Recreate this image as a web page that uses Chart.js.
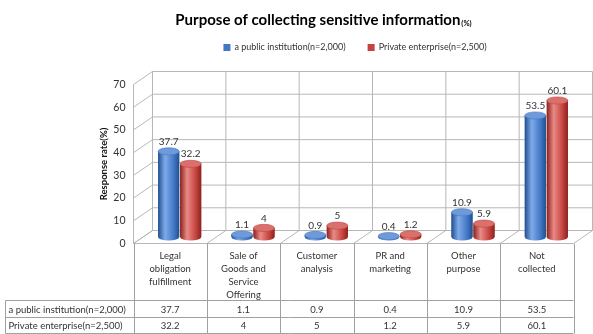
<!DOCTYPE html>
<html>
<head>
<meta charset="utf-8">
<script src="https://cdn.jsdelivr.net/npm/chart.js@4/dist/chart.umd.min.js"></script>
<style>
  html, body { margin: 0; padding: 0; background: #fff; }
  canvas { display: block; }
</style>
</head>
<body>
<canvas id="myChart" width="593" height="334"></canvas>
<script>
const categories = [
  ['Legal', 'obligation', 'fulfillment'],
  ['Sale of', 'Goods and', 'Service', 'Offering'],
  ['Customer', 'analysis'],
  ['PR and', 'marketing'],
  ['Other', 'purpose'],
  ['Not', 'collected']
]
const publicValues = [37.7, 1.1, 0.9, 0.4, 10.9, 53.5]
const privateValues = [32.2, 4, 5, 1.2, 5.9, 60.1]
const seriesNames = ['a public institution(n=2,000)', 'Private enterprise(n=2,500)']
const yTicks = [0, 10, 20, 30, 40, 50, 60, 70]

const titleText = 'Purpose of collecting sensitive information'
const titleUnit = '(%)'
const yTitle = 'Response rate(%)'

const blueShades = ['#21508f', '#7eaae8', '#4277c6', '#6f9ad9']
const redShades = ['#8a221f', '#ea8a86', '#c4433f', '#d9706c']
const gridColor = '#b7b7b7'
const tableColor = '#a0a0a0'
const textColor = '#333333'
const fontFamily = 'Lato, "Open Sans", sans-serif'

// depth of the 3d box, from the front edge to the back wall
const depthX = 19
const depthY = -13

function drawCylinder(c, x, top, base, w, shades) {
	var rx = w / 2, ry = w * 0.17
	var g = c.createLinearGradient(x - rx, 0, x + rx, 0)
	g.addColorStop(0, shades[0])
	g.addColorStop(0.33, shades[1])
	g.addColorStop(0.75, shades[2])
	g.addColorStop(1, shades[0])
	c.fillStyle = g
	c.beginPath()
	c.moveTo(x - rx, top)
	c.lineTo(x - rx, base)
	c.ellipse(x, base, rx, ry, 0, Math.PI, 0, true)
	c.lineTo(x + rx, top)
	c.closePath()
	c.fill()
	c.beginPath()
	c.ellipse(x, top, rx, ry, 0, 0, Math.PI * 2)
	c.fillStyle = shades[3]
	c.fill()
	c.strokeStyle = shades[2]
	c.lineWidth = 0.6
	c.stroke()
	return ry
}

// walls, floor and the y axis labels
const boxPlugin = {
	id: 'box3d',
	beforeDatasetsDraw(chart) {
		var c = chart.ctx, area = chart.chartArea, ys = chart.scales.y
		var hx = depthX / 2, hy = depthY / 2
		var step = (area.right - area.left) / categories.length
		c.save()
		c.strokeStyle = gridColor
		c.lineWidth = 1
		c.beginPath()
		yTicks.forEach(function (v) {
			var py = ys.getPixelForValue(v)
			c.moveTo(area.left + hx, py + hy)
			c.lineTo(area.right + hx, py + hy)
			c.moveTo(area.left - hx, py - hy)
			c.lineTo(area.left + hx, py + hy)
		})
		var top = ys.getPixelForValue(yTicks[yTicks.length - 1])
		var bottom = ys.getPixelForValue(0)
		for (var i = 0; i <= categories.length; i++) {
			var bx = area.left + i * step
			c.moveTo(bx + hx, top + hy)
			c.lineTo(bx + hx, bottom + hy)
			c.moveTo(bx - hx, bottom - hy)
			c.lineTo(bx + hx, bottom + hy)
		}
		c.moveTo(area.left - hx, top - hy)
		c.lineTo(area.left - hx, bottom - hy)
		c.moveTo(area.left - hx, bottom - hy)
		c.lineTo(area.right - hx, bottom - hy)
		c.stroke()

		// tick labels on the front edge
		c.fillStyle = textColor
		c.font = '10.5px ' + fontFamily
		c.textAlign = 'right'
		c.textBaseline = 'middle'
		yTicks.forEach(function (v) {
			c.fillText(String(v), area.left - hx - 8, ys.getPixelForValue(v) - hy)
		})

		c.save()
		c.translate(area.left - hx - 30, (top + bottom) / 2 - hy)
		c.rotate(-Math.PI / 2)
		c.textAlign = 'center'
		c.font = 'bold 9.5px ' + fontFamily
		c.fillStyle = '#111'
		c.fillText(yTitle, 0, 0)
		c.restore()
		c.restore()
	},
	afterDatasetsDraw(chart) {
		var c = chart.ctx
		c.save()
		chart.data.datasets.forEach(function (ds, di) {
			var meta = chart.getDatasetMeta(di)
			meta.data.forEach(function (bar, i) {
				var ry = drawCylinder(c, bar.x, bar.y, bar.base, bar.width, ds.shades)
				c.fillStyle = textColor
				c.font = '10px ' + fontFamily
				c.textAlign = 'center'
				c.textBaseline = 'bottom'
				c.fillText(String(ds.data[i]), bar.x, bar.y - ry - 1)
			})
		})
		c.restore()
	}
}

// title, legend and the data table under the plot
const textPlugin = {
	id: 'dataTable',
	afterDraw(chart) {
		var c = chart.ctx, area = chart.chartArea
		c.save()

		// title with the small unit
		c.fillStyle = '#000'
		c.textBaseline = 'middle'
		c.textAlign = 'left'
		c.font = 'bold 15px ' + fontFamily
		var w1 = c.measureText(titleText).width
		c.font = 'bold 7.5px ' + fontFamily
		var w2 = c.measureText(titleUnit).width
		var tx = 323 - (w1 + w2) / 2
		c.font = 'bold 15px ' + fontFamily
		c.fillText(titleText, tx, 20)
		c.font = 'bold 7.5px ' + fontFamily
		c.fillText(titleUnit, tx + w1 + 1, 24)

		// legend
		c.font = '9px ' + fontFamily
		c.fillStyle = textColor
		var lw = seriesNames.map(function (s) { return c.measureText(s).width })
		var gap = 22
		var total = lw[0] + lw[1] + 2 * 11 + gap
		var lx = 355 - total / 2
		chart.data.datasets.forEach(function (ds, di) {
			c.fillStyle = ds.backgroundColor
			c.fillRect(lx, 44, 7, 7)
			c.fillStyle = textColor
			c.fillText(seriesNames[di], lx + 11, 47.5)
			lx += 11 + lw[di] + gap
		})

		// data table
		var left = area.left - depthX / 2
		var right = area.right - depthX / 2
		var top = area.bottom - depthY / 2
		var step = (right - left) / categories.length
		var row1 = top + 57, row2 = row1 + 17, bottom = row2 + 16
		var tableLeft = 5.5
		c.strokeStyle = tableColor
		c.lineWidth = 1
		c.beginPath()
		for (var i = 0; i <= categories.length; i++) {
			var bx = Math.round(left + i * step) + 0.5
			c.moveTo(bx, top)
			c.lineTo(bx, bottom)
		}
		;[row1, row2, bottom].forEach(function (ry) {
			c.moveTo(tableLeft, ry)
			c.lineTo(right, ry)
		})
		c.moveTo(tableLeft, row1)
		c.lineTo(tableLeft, bottom)
		c.stroke()

		c.fillStyle = textColor
		c.font = '9.5px ' + fontFamily
		c.textAlign = 'center'
		categories.forEach(function (lines, i) {
			var cx = left + (i + 0.5) * step
			lines.forEach(function (s, k) {
				c.fillText(s, cx, top + 12.5 + k * 13)
			})
			c.fillText(String(publicValues[i]), cx, (row1 + row2) / 2 + 0.5)
			c.fillText(String(privateValues[i]), cx, (row2 + bottom) / 2 + 0.5)
		})
		c.textAlign = 'left'
		c.fillText(seriesNames[0], tableLeft + 3, (row1 + row2) / 2 + 0.5)
		c.fillText(seriesNames[1], tableLeft + 3, (row2 + bottom) / 2 + 0.5)
		c.restore()
	}
}

const ctx = document.getElementById('myChart')
const purposeChart = new Chart(ctx, {
	type: 'bar',
	data: {
		labels: categories,
		datasets: [{
			label: seriesNames[0],
			data: publicValues,
			backgroundColor: blueShades[2],
			shades: blueShades
		}, {
			label: seriesNames[1],
			data: privateValues,
			backgroundColor: redShades[2],
			shades: redShades
		}]
	},
	options: {
		responsive: false,
		animation: false,
		devicePixelRatio: 1,
		layout: { padding: { left: 143, right: 10, top: 78, bottom: 97 } },
		datasets: { bar: { categoryPercentage: 0.6, barPercentage: 0.96 } },
		plugins: {
			legend: { display: false },
			title: { display: false },
			tooltip: { enabled: false }
		},
		scales: {
			x: { display: false },
			y: { display: false, min: 0, max: 70, ticks: { stepSize: 10 } }
		}
	},
	plugins: [boxPlugin, textPlugin]
})
</script>
</body>
</html>
